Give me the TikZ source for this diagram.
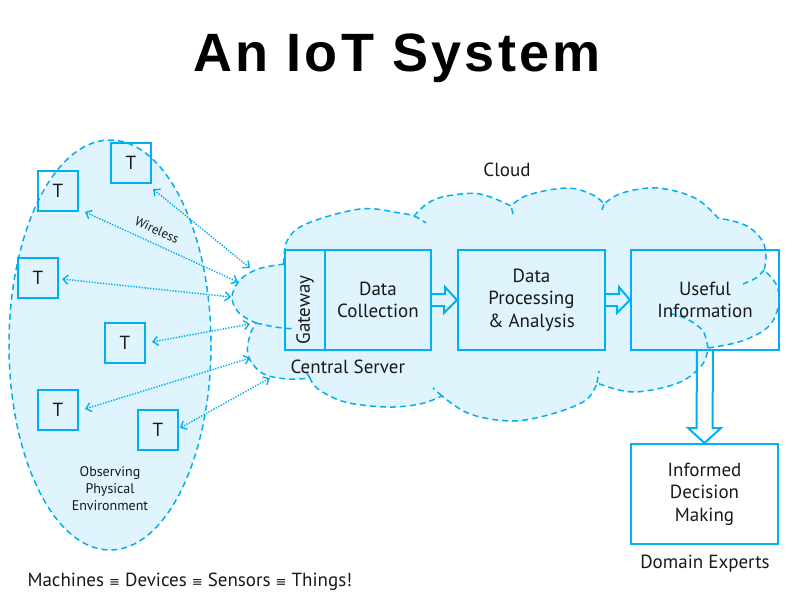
\documentclass[tikz,border=0pt]{standalone}
\usepackage{fontspec}
\setmainfont{PT Sans}
\newfontfamily\titlefont[LetterSpace=6]{Liberation Sans}
\newfontfamily\symfont{DejaVu Sans}
\usetikzlibrary{arrows.meta,calc}
\definecolor{lc}{RGB}{0,176,240}
\definecolor{lfill}{RGB}{223,244,252}
\definecolor{txt}{RGB}{25,25,25}
\begin{document}
\begin{tikzpicture}[x=1pt,y=-1pt,
  box/.style={draw=lc,line width=2pt,inner sep=0pt},
  tbox/.style={draw=lc,line width=2pt,minimum width=40pt,minimum height=40pt,inner sep=0pt,font=\fontsize{19}{19}\selectfont,text=txt},
  lbl/.style={text=txt,font=\fontsize{19}{22.5}\selectfont,align=center},
  small/.style={text=txt,font=\fontsize{14}{17}\selectfont,align=center},
  dashline/.style={draw=lc,line width=1.5pt,dash pattern=on 6pt off 4pt},
  wl/.style={draw=lc,line width=1.4pt,dash pattern=on 1.4pt off 1.4pt,{Straight Barb[length=5pt,width=9pt,line width=1.4pt]}-{Straight Barb[length=5pt,width=9pt,line width=1.4pt]}},
  hollow/.style={draw=lc,line width=2pt,line join=miter}
]
\useasboundingbox (0,0) rectangle (797,592);

% title
\node[anchor=base,font=\titlefont\bfseries\fontsize{54}{54}\selectfont] (title) at (397,71) {An IoT System};

% physical environment ellipse
\path[fill=lfill,dashline] (110,345) ellipse [x radius=101, y radius=205];

% cloud
\path[fill=lfill,dashline]
  (284,264) -- plot[smooth,tension=0.6] coordinates {(284,264) (287,241) (306,224) (360,209) (400,213) (414,216)}
  -- plot[smooth,tension=0.6] coordinates {(414,216) (428,203) (447,196) (480,194) (511,206)}
  -- plot[smooth,tension=0.6] coordinates {(511,206) (528,195) (567,188) (593,195) (604,204)}
  -- plot[smooth,tension=0.6] coordinates {(604,204) (622,193) (657,188) (695,198) (718,218)}
  -- plot[smooth,tension=0.6] coordinates {(718,218) (745,225) (762,240) (766,257) (764,270)}
  -- plot[smooth,tension=0.6] coordinates {(764,270) (776,284) (779,303) (769,326) (742,341) (708,348)}
  -- plot[smooth,tension=0.6] coordinates {(708,348) (702,365) (678,383) (633,392) (597,383)}
  -- plot[smooth,tension=0.6] coordinates {(597,383) (586,400) (555,413) (513,421) (470,414) (442,396)}
  -- plot[smooth,tension=0.6] coordinates {(442,396) (420,404) (387,407) (345,402) (318,389) (310,378)}
  -- plot[smooth,tension=0.6] coordinates {(310,378) (287,379) (262,373) (248,355) (250,335) (256,323)}
  -- plot[smooth,tension=0.6] coordinates {(256,323) (239,313) (232,297) (240,280) (258,269) (284,264)}
  -- cycle;
% cloud curls
\draw[dashline] plot[smooth] coordinates {(414,216) (420,219) (426,223)};
\draw[dashline] plot[smooth] coordinates {(513,214) (511,206)};
\draw[dashline] plot[smooth] coordinates {(602,210) (604,204)};
\draw[dashline] plot[smooth] coordinates {(764,270) (756,278) (743,284)};
\draw[dashline] plot[smooth] coordinates {(708,348) (703,331) (687,319) (665,312)};
\draw[dashline] plot[smooth] coordinates {(597,383) (599,371)};
\draw[dashline] plot[smooth] coordinates {(442,396) (433,388)};
\draw[dashline] plot[smooth] coordinates {(310,378) (305,370)};
\draw[dashline] plot[smooth] coordinates {(256,323) (275,327) (294,329)};

% server boxes
\node[box,minimum width=40pt,minimum height=100pt] (gw) at (305,300) {};
\node[lbl,rotate=90] (gwt) at (305,310) {Gateway};
\node[box,lbl,minimum width=106pt,minimum height=100pt] (dc) at (378,300) {Data\\Collection};
\node[box,lbl,minimum width=147pt,minimum height=100pt] (dp) at (531.5,300) {Data\\Processing\\\& Analysis};
\node[box,lbl,minimum width=148pt,minimum height=100pt] (ui) at (705,300) {Useful\\Information};
\node[box,lbl,fill=white,minimum width=147pt,minimum height=100pt] (idm) at (704.5,494) {Informed\\Decision\\Making};

% hollow arrows
\draw[hollow] ($(dc.east)+(0,-6)$) -- ++(13,0) -- ++(0,-7) -- (dp.west) -- ++(-13,13) -- ++(0,-7) -- ($(dc.east)+(0,6)$);
\draw[hollow] ($(dp.east)+(0,-6)$) -- ++(13,0) -- ++(0,-7) -- (ui.west) -- ++(-13,13) -- ++(0,-7) -- ($(dp.east)+(0,6)$);
\draw[hollow] ($(ui.south)+(-8,0)$) -- ($(idm.north)+(-8,-15)$) -- ++(-8.5,0) -- (idm.north) -- ++(16.5,-15) -- ++(-8.5,0) -- ($(ui.south)+(8,0)$);

% labels
\node[lbl,anchor=center] (cloudl) at (507,170) {Cloud};
\node[lbl,anchor=base west] (cs) at (287,373) {Central Server};
\node[lbl,anchor=base] (de) at (705,568) {Domain Experts};
\node[small] (obs) at (110,489) {Observing\\Physical\\Environment};
\node[lbl,anchor=base west] (mach) at (24,586) {Machines {\symfont\fontsize{13}{13}\selectfont ≡} Devices {\symfont\fontsize{13}{13}\selectfont ≡} Sensors {\symfont\fontsize{13}{13}\selectfont ≡} Things!};

% things
\node[tbox] (t1) at (131,163) {T};
\node[tbox] (t2) at (58,191) {T};
\node[tbox] (t3) at (38,278) {T};
\node[tbox] (t4) at (125,343) {T};
\node[tbox] (t5) at (58,410) {T};
\node[tbox] (t6) at (158,430) {T};

% wireless links
\coordinate (s1) at (153,189); \coordinate (e1) at (250,268);
\coordinate (s2) at (85,212);  \coordinate (e2) at (238,282);
\coordinate (s3) at (62,279);  \coordinate (e3) at (231,297);
\coordinate (s4) at (152,342); \coordinate (e4) at (250,324);
\coordinate (s5) at (85,409);  \coordinate (e5) at (250,358);
\coordinate (s6) at (180,428); \coordinate (e6) at (270,378);
\draw[wl] (s1) -- (e1);
\draw[wl] (s2) -- (e2);
\draw[wl] (s3) -- (e3);
\draw[wl] (s4) -- (e4);
\draw[wl] (s5) -- (e5);
\draw[wl] (s6) -- (e6);
\node[text=txt,font=\fontsize{13}{13}\selectfont,rotate=-25,inner sep=1pt] (wls) at (157,230) {Wireless};
\end{tikzpicture}
\end{document}
